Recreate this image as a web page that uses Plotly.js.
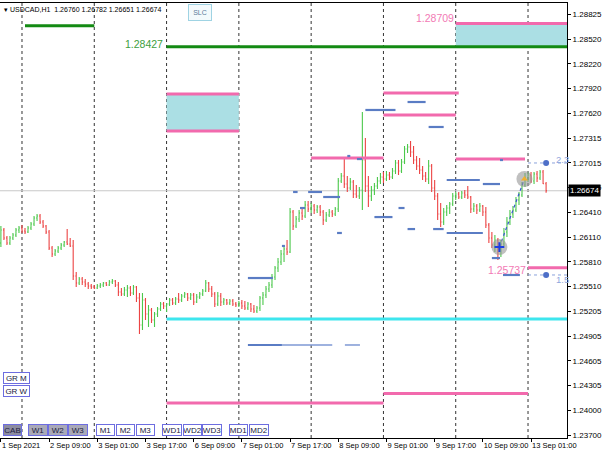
<!DOCTYPE html>
<html><head><meta charset="utf-8">
<script src="https://cdn.plot.ly/plotly-3.0.1.min.js"></script>
<style>html,body{margin:0;padding:0;background:#fff;}#chart{width:604px;height:451px;}</style>
</head><body><div id="chart"></div>
<script>
// ---- data: USDCAD H1 bars, hour index 0 = 2 Sep 00:00 (weekend skipped) ----
const firstHour = -7;
const open = [
1.26038,1.26196,1.26099,1.26038,1.26099,1.26135,1.26196,
1.26221,1.26184,1.26172,1.26221,1.26269,1.26342,1.26367,1.26294,1.26245,1.26172,
1.25977,1.25904,1.25941,1.25977,1.26014,1.26050,1.26026,1.26002,1.25636,1.25551,
1.25600,1.25563,1.25539,1.25515,
1.25503,1.25490,1.25515,1.25527,1.25551,1.25527,1.25563,1.25576,1.25527,1.25442,
1.25417,1.25466,1.25490,1.25430,1.25503,1.25369,1.25040,1.25345,1.25174,1.25223,
1.25101,1.25174,1.25235,1.25296,
1.25271,1.25296,1.25345,1.25308,1.25357,1.25345,1.25393,1.25417,1.25369,1.25405,
1.25320,1.25381,1.25417,1.25454,1.25551,1.25478,1.25417,1.25296,1.25393,1.25320,
1.25345,1.25308,1.25332,1.25296,
1.25284,1.25308,1.25271,1.25247,1.25296,1.25235,1.25211,1.25247,1.25369,1.25405,
1.25478,1.25527,1.25624,1.25734,1.25807,1.25904,1.25965,1.25929,1.26415,1.26245,
1.26330,1.26403,1.26367,1.26500,
1.26452,1.26488,1.26440,1.26476,1.26415,1.26318,1.26379,1.26415,1.26391,1.26452,
1.26793,1.26853,1.26756,1.26707,1.26780,1.26634,1.26610,1.26683,1.27048,1.26732,
1.26610,1.26683,1.26732,1.26793,
1.26841,1.26817,1.26866,1.26841,1.26914,1.27012,1.26914,1.27024,1.27182,1.27206,
1.27146,1.27048,1.26975,1.26926,1.26853,1.26817,1.26975,1.26707,1.26610,1.26391,
1.26294,1.26415,1.26464,1.26513,
1.26610,1.26634,1.26598,1.26646,1.26622,1.26598,1.26452,1.26488,1.26440,1.26488,
1.26415,1.26257,1.26099,1.26014,1.26075,1.25965,1.26026,1.26172,1.26294,1.26391,
1.26440,1.26561,1.26622,1.26744,
1.26829,1.26866,1.26793,1.26878,1.26829,1.26902,1.26760];
const high = [
1.26245,1.26221,1.26123,1.26123,1.26160,1.26221,1.26245,
1.26257,1.26221,1.26245,1.26294,1.26367,1.26391,1.26391,1.26318,1.26257,1.26196,
1.26002,1.25965,1.26002,1.26038,1.26062,1.26208,1.26099,1.26075,1.25685,1.25624,
1.25624,1.25600,1.25563,1.25539,
1.25527,1.25539,1.25551,1.25563,1.25563,1.25588,1.25600,1.25588,1.25563,1.25490,
1.25503,1.25527,1.25515,1.25527,1.25515,1.25430,1.25430,1.25369,1.25284,1.25247,
1.25198,1.25259,1.25320,1.25320,
1.25308,1.25369,1.25369,1.25381,1.25430,1.25417,1.25442,1.25430,1.25430,1.25430,
1.25417,1.25442,1.25478,1.25588,1.25563,1.25515,1.25442,1.25442,1.25430,1.25369,
1.25357,1.25357,1.25357,1.25320,
1.25332,1.25345,1.25332,1.25320,1.25308,1.25284,1.25271,1.25393,1.25442,1.25515,
1.25563,1.25661,1.25758,1.25855,1.25953,1.26002,1.26075,1.26464,1.26440,1.26367,
1.26440,1.26464,1.26549,1.26549,
1.26525,1.26513,1.26500,1.26500,1.26440,1.26415,1.26452,1.26440,1.26476,1.26829,
1.26890,1.27072,1.26853,1.26829,1.26805,1.26744,1.26720,1.27632,1.27316,1.26853,
1.26732,1.26768,1.26841,1.26890,
1.26902,1.26914,1.26902,1.26951,1.27048,1.27048,1.27060,1.27219,1.27243,1.27279,
1.27219,1.27097,1.27072,1.26975,1.26902,1.27048,1.26999,1.26805,1.26646,1.26525,
1.26464,1.26500,1.26537,1.26646,
1.26659,1.26659,1.26671,1.26683,1.26732,1.26610,1.26525,1.26513,1.26525,1.26500,
1.26476,1.26281,1.26172,1.26135,1.26099,1.26075,1.26221,1.26354,1.26440,1.26488,
1.26598,1.26659,1.26780,1.26890,
1.26902,1.26902,1.26902,1.26914,1.26926,1.26926,1.26782];
const low = [
1.25989,1.26075,1.26014,1.26014,1.26075,1.26111,1.26160,
1.26160,1.26148,1.26160,1.26196,1.26245,1.26306,1.26269,1.26221,1.26148,1.25953,
1.25868,1.25880,1.25916,1.25953,1.25989,1.26014,1.25989,1.25588,1.25503,1.25527,
1.25527,1.25503,1.25478,1.25478,
1.25478,1.25478,1.25490,1.25503,1.25515,1.25515,1.25539,1.25503,1.25393,1.25393,
1.25393,1.25381,1.25393,1.25405,1.25320,1.24930,1.24979,1.25101,1.25016,1.25064,
1.25016,1.25138,1.25211,1.25235,
1.25198,1.25271,1.25284,1.25284,1.25308,1.25320,1.25369,1.25332,1.25345,1.25284,
1.25308,1.25357,1.25393,1.25442,1.25442,1.25381,1.25259,1.25271,1.25271,1.25284,
1.25284,1.25284,1.25271,1.25259,
1.25259,1.25235,1.25223,1.25223,1.25198,1.25186,1.25186,1.25211,1.25284,1.25369,
1.25442,1.25490,1.25588,1.25685,1.25770,1.25807,1.25892,1.25916,1.26196,1.26221,
1.26294,1.26318,1.26342,1.26415,
1.26403,1.26391,1.26403,1.26367,1.26257,1.26294,1.26354,1.26354,1.26367,1.26415,
1.26768,1.26707,1.26659,1.26683,1.26586,1.26586,1.26573,1.26440,1.26659,1.26476,
1.26549,1.26622,1.26695,1.26756,
1.26768,1.26793,1.26805,1.26817,1.26878,1.26866,1.26890,1.26999,1.27133,1.27085,
1.26999,1.26926,1.26878,1.26805,1.26780,1.26756,1.26659,1.26561,1.26318,1.26233,
1.26257,1.26367,1.26391,1.26488,
1.26561,1.26573,1.26573,1.26586,1.26573,1.26403,1.26415,1.26391,1.26415,1.26367,
1.26221,1.26038,1.25977,1.25929,1.25831,1.25868,1.26002,1.26111,1.26257,1.26342,
1.26415,1.26500,1.26598,1.26720,
1.26780,1.26768,1.26756,1.26780,1.26805,1.26756,1.26651];
const close = [
1.26196,1.26099,1.26038,1.26099,1.26135,1.26196,1.26221,
1.26184,1.26172,1.26221,1.26269,1.26342,1.26367,1.26294,1.26245,1.26172,1.25977,
1.25904,1.25941,1.25977,1.26014,1.26050,1.26026,1.26002,1.25636,1.25551,1.25600,
1.25563,1.25539,1.25515,1.25503,
1.25490,1.25515,1.25527,1.25551,1.25527,1.25563,1.25576,1.25527,1.25442,1.25417,
1.25466,1.25490,1.25430,1.25503,1.25369,1.25040,1.25345,1.25174,1.25223,1.25101,
1.25174,1.25235,1.25296,1.25271,
1.25296,1.25345,1.25308,1.25357,1.25345,1.25393,1.25417,1.25369,1.25405,1.25320,
1.25381,1.25417,1.25454,1.25551,1.25478,1.25417,1.25296,1.25393,1.25320,1.25345,
1.25308,1.25332,1.25296,1.25284,
1.25308,1.25271,1.25247,1.25296,1.25235,1.25211,1.25247,1.25369,1.25405,1.25478,
1.25527,1.25624,1.25734,1.25807,1.25904,1.25965,1.25929,1.26415,1.26245,1.26330,
1.26403,1.26367,1.26500,1.26452,
1.26488,1.26440,1.26476,1.26415,1.26318,1.26379,1.26415,1.26391,1.26452,1.26793,
1.26853,1.26756,1.26707,1.26780,1.26634,1.26610,1.26683,1.27048,1.26732,1.26610,
1.26683,1.26732,1.26793,1.26841,
1.26817,1.26866,1.26841,1.26914,1.27012,1.26914,1.27024,1.27182,1.27206,1.27146,
1.27048,1.26975,1.26926,1.26853,1.26817,1.26975,1.26707,1.26610,1.26391,1.26294,
1.26415,1.26464,1.26513,1.26610,
1.26634,1.26598,1.26646,1.26622,1.26598,1.26452,1.26488,1.26440,1.26488,1.26415,
1.26257,1.26099,1.26014,1.26075,1.25965,1.26026,1.26172,1.26294,1.26391,1.26440,
1.26561,1.26622,1.26744,1.26829,
1.26866,1.26793,1.26878,1.26829,1.26902,1.26760,1.26674];

const xTickVals = [-7, 9, 25, 41, 57, 73, 89, 105, 121, 137, 153, 169];
const xTickText = ["1 Sep 2021","2 Sep 09:00","3 Sep 01:00","3 Sep 17:00","6 Sep 09:00","7 Sep 01:00",
                   "7 Sep 17:00","8 Sep 09:00","9 Sep 01:00","9 Sep 17:00","10 Sep 09:00","13 Sep 01:00"];
const yTickVals = [1.28825,1.28520,1.28220,1.27920,1.27620,1.27315,1.27015,1.26715,1.26410,
                   1.26110,1.25810,1.25510,1.25205,1.24905,1.24605,1.24305,1.24000,1.23700];
const daySeparators = [0, 24, 48, 72, 96, 120, 144, 168];
const currentPrice = 1.26674;
const headerText = "▾ USDCAD,H1  1.26760 1.26782 1.26651 1.26674";

// levels (price, from hour, to hour)
const pinkLevel = [1.28709, 1.27851, 1.27401, 1.27072, 1.27864, 1.27596, 1.27060, 1.25737, 1.24091, 1.24206];
const pinkFrom  = [144, 48, 48, 96, 120, 120, 144, 168, 48, 120];
const pinkTo    = [182, 72, 72, 120, 145, 144, 167, 182, 120, 168];
const greenLevel = [1.28427, 1.28683];
const greenFrom  = [48, 1];
const greenTo    = [182, 24];
const cyanLevel = [1.25113], cyanFrom = [48], cyanTo = [182];
const zoneLow  = [1.28427, 1.27401];
const zoneHigh = [1.28709, 1.27851];
const zoneFrom = [144, 48];
const zoneTo   = [182, 72];
const blueLevel = [1.24797,1.25612,1.26659,1.26659,1.26598,1.26464,1.26160,1.26002,1.27097,1.27060,
                   1.27657,1.27754,1.27450,1.26354,1.26464,1.26208,1.26208,1.26160,1.26805,1.26756,
                   1.27048,1.25855,1.25649];
const blueFrom  = [75,75,90,95,100,92.3,104.6,86.3,108,111.2,114,128,135,117,125,128,136.5,141,141,153,158.7,156,159.7];
const blueTo    = [86.3,83.3,91.5,99.6,105.6,94,106.2,87.3,109,112.9,124,134,140,123,127,130.5,140,153,152,158.7,159.7,158.7,165.3];
const blueThinLevel = [1.24797, 1.24797];
const blueThinFrom = [86.3, 107.2];
const blueThinTo = [103, 112.2];
const projLevel = [1.27012, 1.25649];
const projLabel = ["2.3", "1.5"];
const projFrom = 168, projTo = 182, projDot = 174;
const signalX = [158.5, 166.8];
const signalY = [1.25989, 1.26817];
const labelTexts = ["1.28427", "1.28709", "1.25737"];
const labelLevels = [1.28427, 1.28709, 1.25737];
const labelAt = [47.6, 144, 168];
const buttonsBottom = ["CAB","W1","W2","W3","M1","M2","M3","WD1","WD2","WD3","MD1","MD2"];
const buttonsLeft = ["GR M","GR W"];

// ---- build ----
const hours = open.map((_, k) => firstHour + k);
function segs(lv, a, b) {
  const x = [], y = [];
  lv.forEach((v, k) => { x.push(a[k], b[k], null); y.push(v, v, null); });
  return {x, y};
}
const FONT = "Liberation Sans, Arial, sans-serif";
const traces = [];
function lineTrace(s, color, width, dash) {
  traces.push({type:'scatter', mode:'lines', x:s.x, y:s.y, hoverinfo:'skip',
    line:{color, width, dash: dash || 'solid'}, showlegend:false});
}
lineTrace(segs(cyanLevel, cyanFrom, cyanTo), '#3ee6ee', 3);
lineTrace(segs(greenLevel, greenFrom, greenTo), '#138a13', 3);
lineTrace(segs(pinkLevel, pinkFrom, pinkTo), '#f26aad', 3);
lineTrace(segs(blueLevel, blueFrom, blueTo), '#5a7cc4', 2.2);
lineTrace(segs(blueThinLevel, blueThinFrom, blueThinTo), '#7e98d4', 1.5);
lineTrace(segs(projLevel, [projFrom, projFrom], [projTo, projTo]), '#8aa2dc', 1, 'dot');
traces.push({type:'ohlc', x:hours, open, high, low, close, hoverinfo:'skip', showlegend:false,
  tickwidth:0.3,
  increasing:{line:{color:'#4cc84c', width:1.1}}, decreasing:{line:{color:'#ec4444', width:1.1}}});
// signal path
traces.push({type:'scatter', mode:'lines', x:signalX, y:signalY, hoverinfo:'skip', showlegend:false,
  line:{color:'#3a56d0', width:1.2, dash:'dot'}});
traces.push({type:'scatter', mode:'markers', x:signalX, y:signalY, hoverinfo:'skip', showlegend:false,
  marker:{size:16, color:'rgba(150,150,150,0.6)'}});
traces.push({type:'scatter', mode:'markers', x:[signalX[0]], y:[signalY[0]], hoverinfo:'skip', showlegend:false,
  marker:{size:7, symbol:'cross-thin-open', color:'#1f3fe0', line:{width:2, color:'#1f3fe0'}}});
traces.push({type:'scatter', mode:'markers', x:[signalX[1]], y:[signalY[1]], hoverinfo:'skip', showlegend:false,
  marker:{size:6, symbol:'triangle-up', color:'#f0b030'}});
traces.push({type:'scatter', mode:'markers', x:[projDot, projDot], y:projLevel, hoverinfo:'skip', showlegend:false,
  marker:{size:6, color:'#4d6fc8'}});

const shapes = [];
zoneLow.forEach((v, k) => shapes.push({type:'rect', xref:'x', yref:'y', x0:zoneFrom[k], x1:zoneTo[k],
  y0:v, y1:zoneHigh[k], fillcolor:'#abdfe4', line:{width:0}, layer:'below'}));
daySeparators.forEach(d => shapes.push({type:'line', xref:'x', yref:'paper', x0:d, x1:d, y0:0, y1:1,
  line:{color:'#333', width:1, dash:'dot'}, layer:'below'}));
shapes.push({type:'line', xref:'paper', yref:'y', x0:0, x1:1, y0:currentPrice, y1:currentPrice,
  line:{color:'#c8c8c8', width:1}, layer:'below'});

const W = 567, TOP = 3, BOT = 438;
const px = v => v / W, py = v => (BOT - v) / (BOT - TOP);
const annotations = [];
annotations.push({xref:'paper', yref:'paper', x:px(2), y:py(9), xanchor:'left', yanchor:'middle',
  text:headerText, showarrow:false, font:{family:FONT, size:7, color:'#000'}});
annotations.push({xref:'paper', yref:'paper', x:px(200), y:py(13), xanchor:'center', yanchor:'middle',
  text:'SLC', showarrow:false, width:20, height:13, bgcolor:'#f3fafc', bordercolor:'#9fd3e3', borderwidth:1, borderpad:1,
  font:{family:FONT, size:7, color:'#5a7a9a'}});
const labelColors = ['#3d9e3d', '#f27ab5', '#f27ab5'];
const labelShift = [3, 6, -2];
labelTexts.forEach((t, k) => annotations.push({xref:'x', yref:'y', x:labelAt[k], y:labelLevels[k],
  xanchor:'right', yanchor:'middle', yshift:labelShift[k], text:t, showarrow:false,
  font:{family:FONT, size:10.5, color:labelColors[k]}}));
projLabel.forEach((t, k) => annotations.push({xref:'paper', yref:'y', x:px(554), y:projLevel[k], xanchor:'left',
  yanchor:'middle', yshift: k === 0 ? 3 : -5, text:t, showarrow:false, font:{family:FONT, size:9.5, color:'#8fa6dd'}}));
annotations.push({xref:'paper', yref:'y', x:1, y:currentPrice, xanchor:'left', yanchor:'middle', xshift:1,
  text:currentPrice.toFixed(5), showarrow:false, bgcolor:'#000', borderpad:1,
  font:{family:FONT, size:8, color:'#fff'}});
const btnCenters = [12, 37.5, 57.5, 77.5, 105, 125, 145, 172, 192, 211.5, 238, 258.5];
const btnWidths  = [17, 18, 18, 18, 17, 17, 17, 18, 17, 18, 17, 18];
buttonsBottom.forEach((t, k) => {
  const fill = k === 0 ? '#8c8ca0' : (k <= 3 ? '#a9a9b8' : '#ffffff');
  annotations.push({xref:'paper', yref:'paper', x:px(btnCenters[k]), y:py(430), xanchor:'center', yanchor:'middle',
    text:t, showarrow:false, width:btnWidths[k], height:10, bgcolor:fill, bordercolor:'#6d6de0', borderwidth:1, borderpad:0,
    font:{family:FONT, size:8, color:'#202040'}});
});
buttonsLeft.forEach((t, k) => annotations.push({xref:'paper', yref:'paper', x:px(3), y:py(378 + 13*k),
  xanchor:'left', yanchor:'middle', text:t, showarrow:false, width:25, height:10, bgcolor:'#fff',
  bordercolor:'#6d6de0', borderwidth:1, borderpad:0, font:{family:FONT, size:8, color:'#202040'}}));

const layout = {
  width:604, height:451, margin:{l:0, r:37, t:3, b:13},
  paper_bgcolor:'#fff', plot_bgcolor:'#fff', showlegend:false, hovermode:false,
  xaxis:{range:[-7.30, 180.94], tickmode:'array', tickvals:xTickVals, ticktext:xTickText,
    ticks:'outside', ticklen:3, tickcolor:'#000', showgrid:false, zeroline:false, tickangle:0,
    showline:true, linecolor:'#000', linewidth:1, mirror:true, ticklabelposition:'outside right',
    tickfont:{family:FONT, size:7.5, color:'#000'}, rangeslider:{visible:false}, fixedrange:true},
  yaxis:{side:'right', range:[1.23665, 1.28959], tickmode:'array', tickvals:yTickVals,
    ticktext:yTickVals.map(v => v.toFixed(5)), ticks:'outside', ticklen:3, tickcolor:'#000',
    showgrid:false, zeroline:false, showline:true, linecolor:'#000', linewidth:1, mirror:true,
    tickfont:{family:FONT, size:8, color:'#000'}, fixedrange:true},
  shapes, annotations
};
Plotly.newPlot('chart', traces, layout, {staticPlot:true, displayModeBar:false});
</script></body></html>
